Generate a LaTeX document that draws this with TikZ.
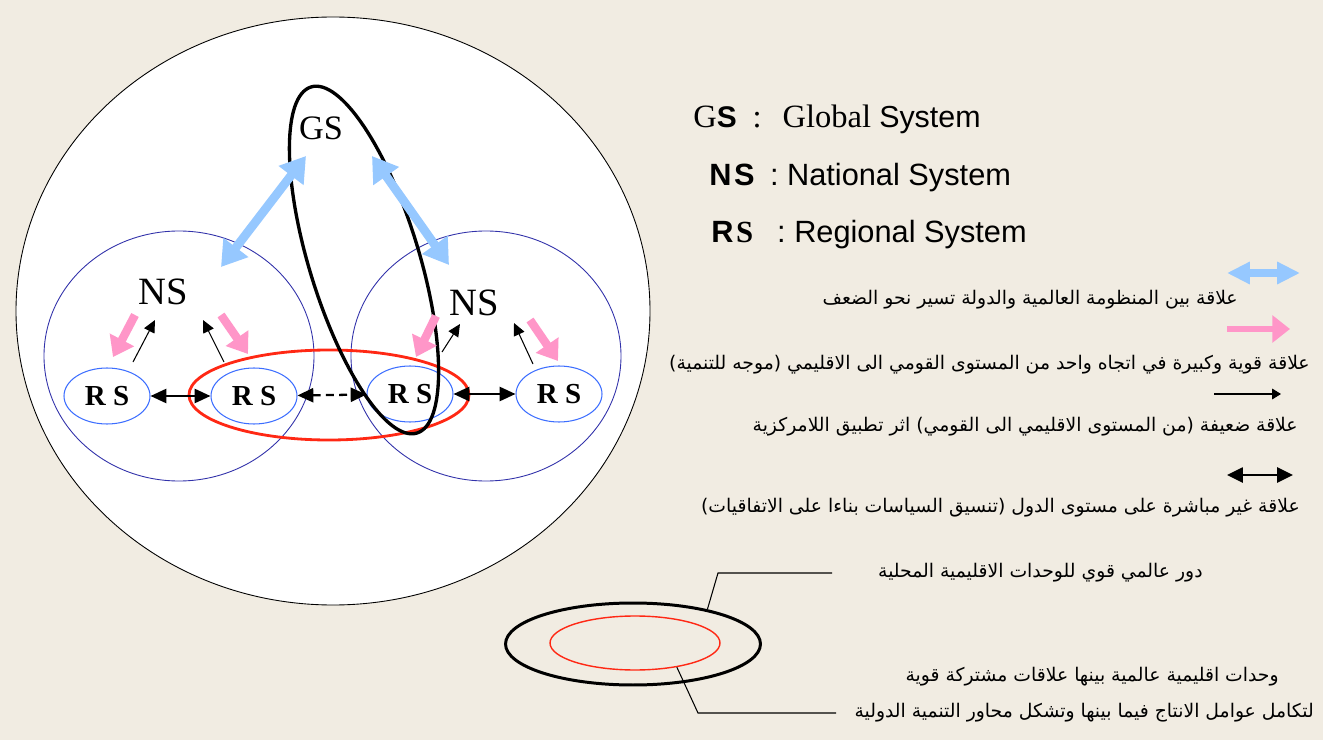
\documentclass[tikz,border=0pt]{standalone}
\usepackage{fontspec}
\setmainfont{Liberation Serif}
\newfontfamily\sansfont{Liberation Sans}
\newfontfamily\arabicfont[Script=Arabic]{DejaVu Sans}
\TeXXeTstate=1
\usepackage{tikz}
\usetikzlibrary{arrows.meta,shapes.geometric,positioning,calc}
\definecolor{paper}{RGB}{241,236,226}
\definecolor{navy}{RGB}{50,50,170}
\definecolor{rsblue}{RGB}{60,110,255}
\definecolor{skyarrow}{RGB}{150,200,255}
\definecolor{pinkarrow}{RGB}{255,150,200}
\definecolor{ringred}{RGB}{255,40,20}
\newcommand{\ar}[1]{{\arabicfont\fontsize{10.7}{13}\selectfont\beginR #1\endR}}

\tikzset{
  rsnode/.style={ellipse,draw=rsblue,line width=0.6pt,minimum width=1.72cm,minimum height=1.12cm,
    font=\fontsize{16.5}{16.5}\selectfont\bfseries},
  sysnode/.style={font=\fontsize{22}{22}\selectfont},
  skyline/.style={draw=skyarrow,line width=5pt,{Triangle[length=14pt,width=17pt]}-{Triangle[length=14pt,width=17pt]}},
  pinkline/.style={draw=pinkarrow,line width=4.8pt,-{Triangle[length=11pt,width=15pt]}},
  thinline/.style={line width=0.6pt,-{Triangle[length=7pt,width=6.5pt]}},
  rsline/.style={line width=1.3pt,{Triangle[length=9pt,width=8pt]}-{Triangle[length=9pt,width=8pt]}},
  keytext/.style={anchor=east,inner sep=0pt},
  legendtext/.style={anchor=base west,inner sep=0pt}
}

\begin{document}
\begin{tikzpicture}[x=0.02cm,y=-0.02cm]
    % Page and frame
    \fill[paper] (0,0) rectangle (1323,740);
    \useasboundingbox (0,0) rectangle (1323,740);
    \draw[fill=white,line width=0.5pt] (333,311) ellipse [x radius=317,y radius=294];

    % National circles
    \draw[navy,line width=0.5pt] (179,356) ellipse [x radius=135,y radius=125];
    \draw[navy,line width=0.5pt] (486,356) ellipse [x radius=135,y radius=125];

    % Systems
    \node[sysnode,font=\fontsize{19.5}{19.5}\selectfont] (gs) at (321,128) {GS};
    \node[sysnode] (nsL) at (163,292) {NS};
    \node[sysnode] (nsR) at (474,303) {NS};
    \node[rsnode] (rs1) at (107,396) {R S};
    \node[rsnode] (rs2) at (254,396) {R S};
    \node[rsnode] (rs3) at (410,394) {R S};
    \node[rsnode] (rs4) at (559,394) {R S};

    % Rings
    \draw[ringred,line width=1.6pt] (329,395) ellipse [x radius=140,y radius=45];
    \draw[line width=1.9pt,rotate around={107:(364,260)}] (364,260) ellipse [x radius=3.62cm,y radius=1.1cm];

    % Global links
    \coordinate (gsL) at (306,156);
    \coordinate (gsR) at (372,156);
    \coordinate (nsLtop) at (221,267);
    \coordinate (nsRtop) at (449,265);
    \draw[skyline] (gsL) -- (nsLtop);
    \draw[skyline] (gsR) -- (nsRtop);

    % National to regional
    \coordinate (p1) at (135,315); \coordinate (q1) at (113,357);
    \coordinate (p2) at (221,315); \coordinate (q2) at (248,354);
    \coordinate (p3) at (436,316); \coordinate (q3) at (416,357);
    \coordinate (p4) at (530,320); \coordinate (q4) at (558,361);
    \foreach \i in {1,...,4} \draw[pinkline] (p\i) -- (q\i);

    % Regional to national
    \coordinate (a1) at (133,362); \coordinate (b1) at (155,320);
    \coordinate (a2) at (224,362); \coordinate (b2) at (203,320);
    \coordinate (a3) at (442,352); \coordinate (b3) at (460,324);
    \coordinate (a4) at (533,364); \coordinate (b4) at (514,323);
    \foreach \i in {1,...,4} \draw[thinline] (a\i) -- (b\i);

    % Regional links
    \draw[rsline] (rs1) -- (rs2);
    \draw[rsline,dash pattern=on 4.5pt off 3pt] (rs2) -- (rs3);
    \draw[rsline] (rs3) -- (rs4);

    % Legend
    \node[legendtext,font=\fontsize{18.5}{20}\selectfont] (keyGS) at (693,128)
      {G{\sansfont\bfseries\fontsize{17}{20}\selectfont S}\hspace{9pt}:\hspace{12pt}Global {\sansfont\fontsize{17.3}{20}\selectfont System}};
    \node[legendtext,font=\fontsize{17.5}{20}\selectfont\sansfont] (keyNS) at (709,186)
      {{\bfseries N\kern1.5pt S}\enspace: National System};
    \node[legendtext,font=\fontsize{17.5}{20}\selectfont\sansfont] (keyRS) at (711,242)
      {{\bfseries R\kern1.5pt}{\rmfamily\bfseries S}\enspace\ : Regional System};

    \coordinate (k1a) at (1227,273); \coordinate (k1b) at (1300,273);
    \coordinate (k2a) at (1227,329); \coordinate (k2b) at (1290,329);
    \coordinate (k3a) at (1214,394); \coordinate (k3b) at (1281,394);
    \coordinate (k4a) at (1227,475); \coordinate (k4b) at (1293,475);
    \draw[draw=skyarrow,line width=4.5pt,{Triangle[length=13pt,width=12pt]}-{Triangle[length=13pt,width=12pt]}] (k1a) -- (k1b);
    \draw[draw=pinkarrow,line width=3.4pt,-{Triangle[length=10pt,width=15pt]}] (k2a) -- (k2b);
    \draw[thinline,-{Triangle[length=5pt,width=6pt]}] (k3a) -- (k3b);
    \draw[line width=1.3pt,{Triangle[length=9pt,width=8.5pt]}-{Triangle[length=9pt,width=8.5pt]}] (k4a) -- (k4b);

    \node[keytext] (txt1) at (1238,300) {\ar{علاقة بين المنظومة العالمية والدولة تسير نحو الضعف}};
    \node[keytext] (txt2) at (1310,365) {\ar{علاقة قوية وكبيرة في اتجاه واحد من المستوى القومي الى الاقليمي (موجه للتنمية)}};
    \node[keytext] (txt3) at (1298,427) {\ar{علاقة ضعيفة (من المستوى الاقليمي الى القومي) اثر تطبيق اللامركزية}};
    \node[keytext] (txt4) at (1300,508) {\ar{علاقة غير مباشرة على مستوى الدول (تنسيق السياسات بناءا على الاتفاقيات)}};

    % Ring key
    \node[ellipse,draw,line width=1.7pt,minimum width=5.1cm,minimum height=1.64cm] (keyOuter) at (633,644) {};
    \node[ellipse,draw=ringred,line width=0.8pt,minimum width=3.4cm,minimum height=1.08cm] (keyInner) at (635,643) {};
    \node[keytext] (txt5) at (1203,573) {\ar{دور عالمي قوي للوحدات الاقليمية المحلية}};
    \node[keytext] (txt6) at (1279,677) {\ar{وحدات اقليمية عالمية بينها علاقات مشتركة قوية}};
    \node[keytext] (txt7) at (1314,713) {\ar{لتكامل عوامل الانتاج فيما بينها وتشكل محاور التنمية الدولية}};
    \draw[line width=0.6pt] (keyOuter.25) -- (718,573) -- (832,573);
    \draw[line width=0.6pt] (keyInner.-30) -- (698,713) -- (836,713);
\end{tikzpicture}
\end{document}
